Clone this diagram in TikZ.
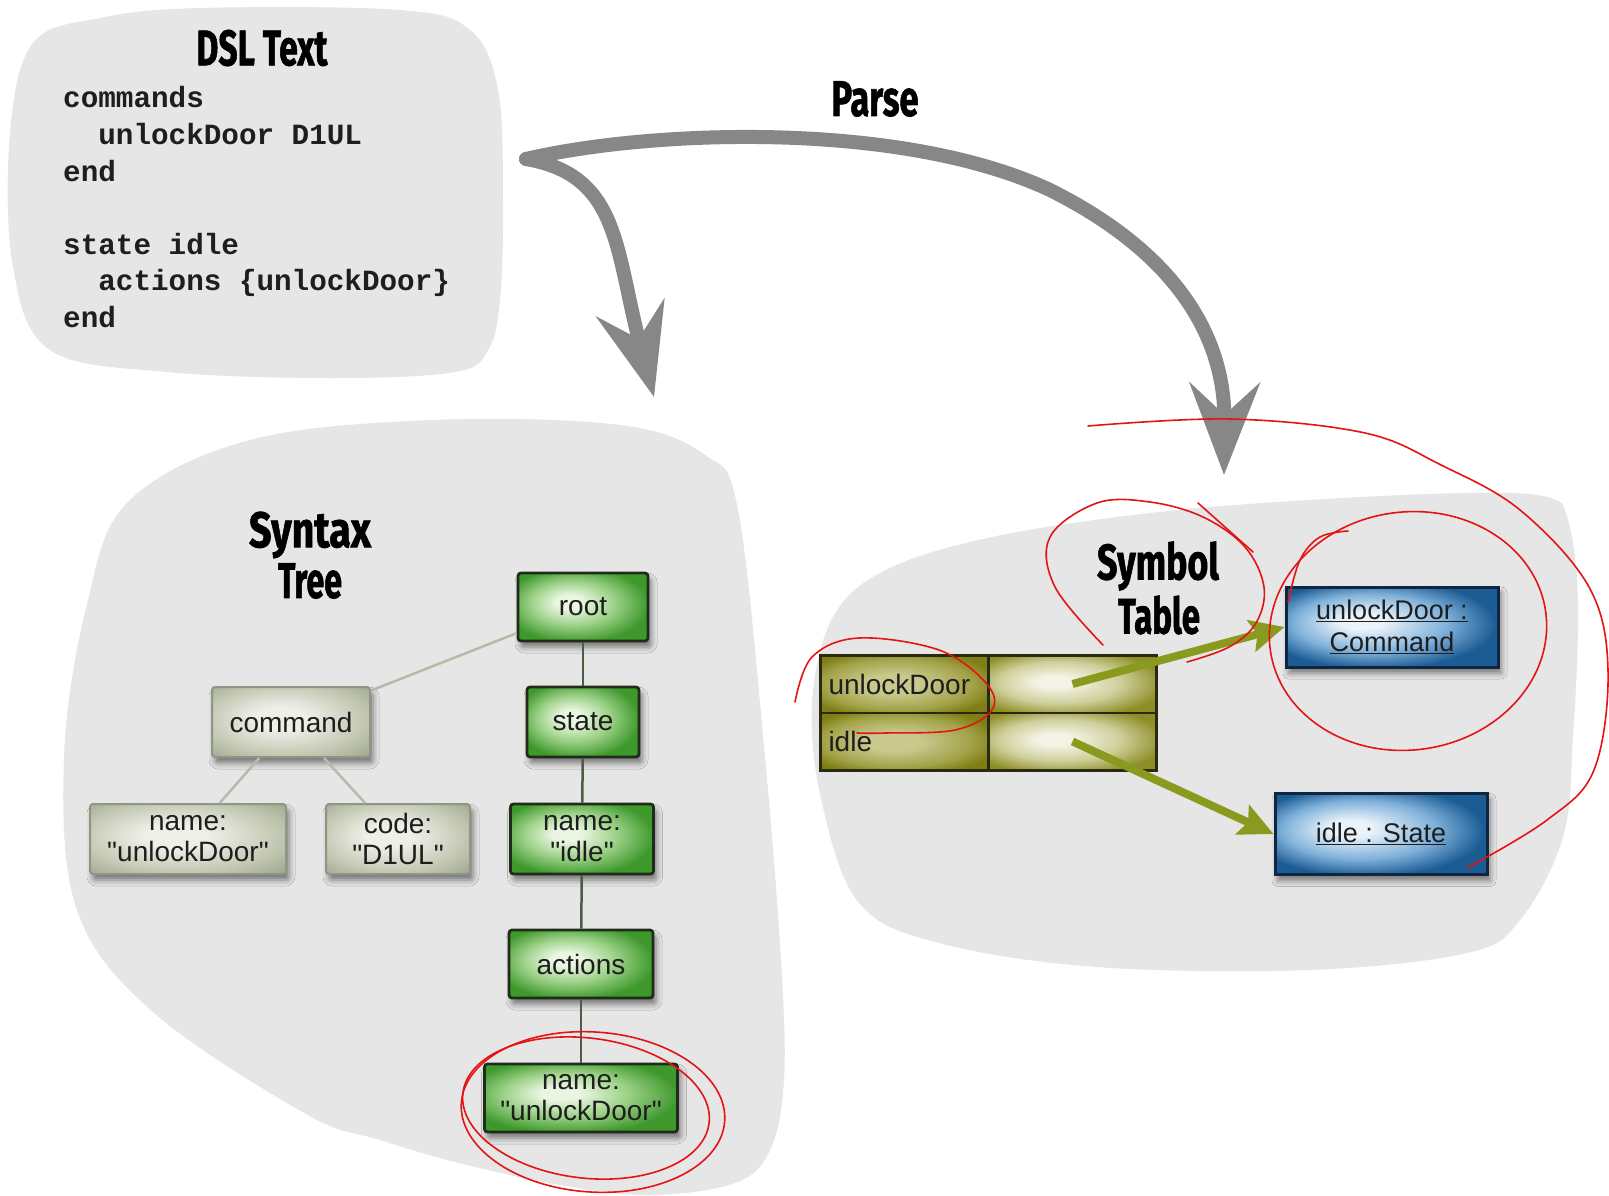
\documentclass[tikz,border=0pt]{standalone}
\usepackage{fontspec}
\usepackage{graphicx}
\setmainfont{Liberation Sans}[Ligatures=TeXOff]
\newfontfamily\codefont{Liberation Mono}
\newfontfamily\handfont{Fira Sans}[BoldFeatures={FakeBold=1.5}]
\usetikzlibrary{arrows.meta,shadows.blur}

\definecolor{blobgray}{HTML}{E6E6E6}
\definecolor{parsegray}{HTML}{878787}
\definecolor{gA}{HTML}{EAF6E2}
\definecolor{gB}{HTML}{9DD288}
\definecolor{gC}{HTML}{3E982C}
\definecolor{gborder}{HTML}{1F2C1A}
\definecolor{nA}{HTML}{EEF0E8}
\definecolor{nB}{HTML}{C3C8B3}
\definecolor{nC}{HTML}{A3AA92}
\definecolor{nborder}{HTML}{8E9686}
\definecolor{bA}{HTML}{EAF3FA}
\definecolor{bB}{HTML}{7FB1DA}
\definecolor{bC}{HTML}{1C5C95}
\definecolor{bborder}{HTML}{10253F}
\definecolor{oA}{HTML}{F4F4E6}
\definecolor{oB}{HTML}{CFCF9C}
\definecolor{oC}{HTML}{8E8E26}
\definecolor{oL}{HTML}{C9C98E}
\definecolor{oM}{HTML}{A3A34A}
\definecolor{oD}{HTML}{7E7E14}
\definecolor{oborder}{HTML}{2A2A12}
\definecolor{olivearrow}{HTML}{8A9A1E}
\definecolor{inkred}{HTML}{E41414}
\definecolor{txt}{HTML}{1E1E1E}
\definecolor{linelight}{HTML}{B4BCA8}
\definecolor{linedark}{HTML}{4D5C45}

\pgfdeclareradialshading{gshade}{\pgfpoint{-6bp}{4bp}}{color(0bp)=(gA); color(5bp)=(gA); color(16bp)=(gB); color(28bp)=(gC); color(50bp)=(gC)}
\pgfdeclareradialshading{nshade}{\pgfpoint{-4bp}{3bp}}{color(0bp)=(nA); color(8bp)=(nA); color(25bp)=(nB); color(35bp)=(nC); color(50bp)=(nC)}
\pgfdeclareradialshading{bshade}{\pgfpoint{-8bp}{4bp}}{color(0bp)=(bA); color(5bp)=(bA); color(18bp)=(bB); color(28bp)=(bC); color(50bp)=(bC)}
\pgfdeclareradialshading{oshade}{\pgfpoint{-6bp}{2bp}}{color(0bp)=(oA); color(5bp)=(oA); color(18bp)=(oB); color(30bp)=(oC); color(50bp)=(oC)}
\pgfdeclareradialshading{olshade}{\pgfpoint{-4bp}{0bp}}{color(0bp)=(oL); color(8bp)=(oL); color(22bp)=(oM); color(30bp)=(oD); color(50bp)=(oD)}

\newcommand\handtxt[2]{\resizebox{#1}{\height}{\handfont\bfseries\fontsize{50}{54}\selectfont #2}}

\tikzset{
  lbl/.style={font=\fontsize{28}{31}\selectfont, text=txt, align=center, inner sep=0pt},
  shadowed/.style={blur shadow={shadow xshift=3pt, shadow yshift=-6pt, shadow blur radius=6pt, shadow opacity=50}},
  gnode/.style={lbl, rectangle, rounded corners=3pt, draw=gborder, line width=2.8pt, shade, shading=gshade, shadowed},
  nnode/.style={lbl, rectangle, rounded corners=3pt, draw=nborder, line width=2pt, shade, shading=nshade, shadowed},
  bnode/.style={font=\fontsize{27}{32}\selectfont, text=txt, align=center, inner sep=0pt, rectangle, draw=bborder, line width=3pt, shade, shading=bshade, shadowed, minimum width=212pt},
  cellL/.style={rectangle, draw=oborder, line width=2.5pt, shade, shading=olshade, minimum width=168pt, minimum height=57.5pt, text width=152pt, inner xsep=8pt, inner ysep=0pt, align=left, font=\fontsize{28}{31}\selectfont, text=txt},
  cellR/.style={cellL, shading=oshade},
  codeline/.style={anchor=base west, inner sep=0pt, font=\codefont\bfseries\fontsize{29.3}{36.5}\selectfont, text=txt},
  title/.style={inner sep=0pt, text=black},
  lightline/.style={draw=linelight, line width=2.5pt},
  darkline/.style={draw=linedark, line width=2.5pt},
  parse/.style={draw=parsegray, line width=14pt, line cap=round, -{Stealth[length=92pt,width=70pt,inset=32pt]}},
  olive/.style={draw=olivearrow, line width=8pt, -{Stealth[length=34pt,width=32pt,inset=6pt]}},
  ink/.style={draw=inkred, line width=1.6pt, line cap=round, line join=round}
}

\begin{document}
\begin{tikzpicture}[x=1pt,y=-1pt]
\useasboundingbox (0,0) rectangle (1609,1196);
\fill[white] (0,0) rectangle (1609,1196);

% ---------- blobs ----------
\fill[blobgray] plot[smooth cycle, tension=0.6] coordinates {(33,43) (100,18) (200,8) (400,10) (470,30) (498,90) (503,200) (500,300) (488,350) (455,372) (333,378) (167,372) (50,350) (13,267) (10,133)};
\fill[blobgray] plot[smooth cycle, tension=0.6] coordinates {(128,502) (250,440) (434,420) (620,425) (705,455) (738,510) (765,757) (781,961) (784,1080) (770,1150) (735,1183) (650,1195) (560,1185) (459,1163) (380,1140) (306,1114) (153,1012) (77,910) (64,757) (87,604)};
\fill[blobgray] plot[smooth cycle, tension=0.6] coordinates {(833,617) (886,570) (992,537) (1150,513) (1309,500) (1467,493) (1547,497) (1568,520) (1578,603) (1573,737) (1563,837) (1520,920) (1467,953) (1309,970) (1097,967) (939,943) (859,903) (822,803) (812,703)};

% ---------- DSL text ----------
\node[title] (dsltitle) at (262,48) {\handtxt{131pt}{DSL Text}};
\node[codeline] (code1) at (63,108) {commands};
\node[codeline] (code2) at (63,144.5) {\phantom{xx}unlockDoor D1UL};
\node[codeline] (code3) at (63,181) {end};
\node[codeline] (code4) at (63,254) {state idle};
\node[codeline] (code5) at (63,290.5) {\phantom{xx}actions \{unlockDoor\}};
\node[codeline] (code6) at (63,327) {end};

% ---------- Parse arrows ----------
\node[title] (parselbl) at (875,99) {\handtxt{87pt}{Parse}};
\coordinate (p0) at (526,159);
\coordinate (t1) at (654,397);
\coordinate (t2) at (1224,475);
\draw[parse] (p0) .. controls (620,175) and (615,250) .. (t1);
\draw[parse] (p0) .. controls (650,130) and (900,120) .. (1050,190) .. controls (1180,255) and (1225,340) .. (t2);

% ---------- Syntax tree ----------
\node[title] (st1) at (310,535) {\handtxt{122pt}{Syntax}};
\node[title] (st2) at (310,581) {\handtxt{64pt}{Tree}};

\node[gnode, minimum width=130pt, minimum height=68pt] (root) at (583,607) {root};
\node[gnode, minimum width=112pt, minimum height=70pt] (state) at (583,722) {state};
\node[gnode, minimum width=143pt, minimum height=70pt] (sname) at (582,839) {name:\\"idle"};
\node[gnode, minimum width=144pt, minimum height=68pt] (actions) at (581,964) {actions};
\node[gnode, minimum width=193pt, minimum height=68pt] (aname) at (581,1098) {name:\\"unlockDoor"};
\node[nnode, minimum width=158pt, minimum height=70pt] (command) at (291,722) {command};
\node[nnode, minimum width=196pt, minimum height=70pt] (cname) at (188,839) {name:\\"unlockDoor"};
\node[nnode, minimum width=144pt, minimum height=70pt] (ccode) at (398,839) {code:\\"D1UL"};

\draw[lightline] (root) -- (command);
\draw[lightline] (command) -- (cname);
\draw[lightline] (command) -- (ccode);
\draw[darkline] (root) -- (state);
\draw[darkline] (state) -- (sname);
\draw[darkline] (sname) -- (actions);
\draw[darkline] (actions) -- (aname);

% ---------- Symbol table ----------
\node[title] (sy1) at (1158,566) {\handtxt{122pt}{Symbol}};
\node[title] (sy2) at (1159,615) {\handtxt{82pt}{Table}};

\node[cellL] (c11) at (904.5,684) {unlockDoor};
\node[cellR] (c12) at (1072.5,684) {};
\node[cellL] (c21) at (904.5,741.5) {idle};
\node[cellR] (c22) at (1072.5,741.5) {};

\node[bnode, minimum height=80pt] (cmdobj) at (1392,627) {\underline{unlockDoor :}\\\underline{Command}};
\node[bnode, minimum height=81pt] (stateobj) at (1381,834) {\underline{idle : State}};

\draw[olive] (c12.center) -- (cmdobj.west);
\draw[olive] (c22.center) -- (stateobj.west);

% ---------- red annotations ----------
\draw[ink] plot[smooth, tension=0.6] coordinates {(1088,426) (1231,419) (1365,433) (1441,465) (1520,510) (1589,587) (1608,670) (1594,770) (1547,820) (1467,868)};
\draw[ink] plot[smooth, tension=0.6] coordinates {(1103,645) (1055,587) (1050,537) (1097,503) (1150,502) (1203,517) (1245,547) (1264,587) (1256,623) (1229,647) (1187,662)};
\draw[ink] (1198,503) -- (1253,552);
\draw[ink, rotate around={8:(1408,631)}] (1408,631) ellipse [x radius=139pt, y radius=119pt];
\draw[ink] plot[smooth, tension=0.6] coordinates {(1288,602) (1300,560) (1320,537) (1348,531)};
\draw[ink] plot[smooth, tension=0.6] coordinates {(795,702) (812,657) (859,638) (939,650) (986,683) (992,710) (955,730) (886,733) (857,733)};
\draw[ink, rotate around={-4:(593,1112)}] (593,1112) ellipse [x radius=132pt, y radius=80pt];
\draw[ink, rotate around={-7:(586,1108)}] (586,1108) ellipse [x radius=124pt, y radius=70pt];
\end{tikzpicture}
\end{document}
